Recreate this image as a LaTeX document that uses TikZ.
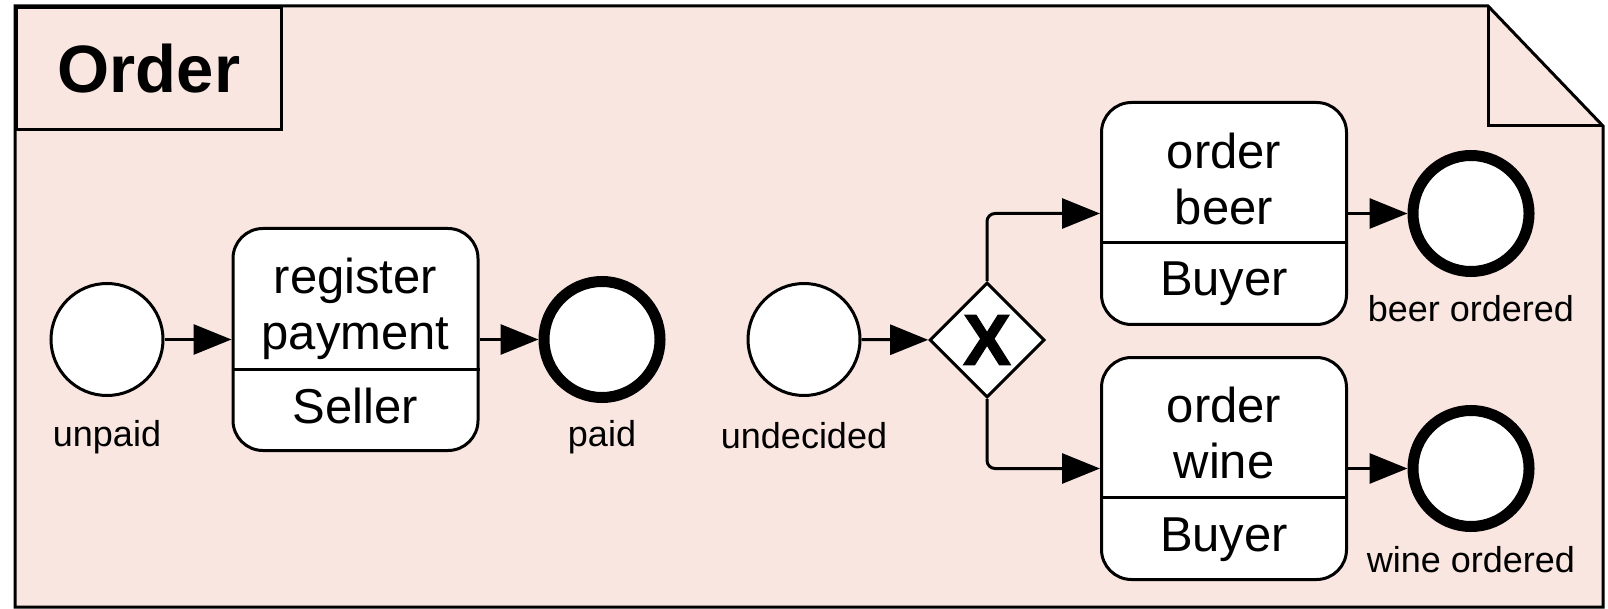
\documentclass[tikz,border=0pt]{standalone}
\usepackage{fontspec}
\setmainfont{Liberation Sans}
\newfontfamily\xorfont[FakeBold=1.6]{Liberation Sans Bold}
\usepackage{tikz}
\usetikzlibrary{positioning,arrows.meta,shapes.geometric}
\definecolor{orderbg}{RGB}{249,230,224}

\begin{document}
\begin{tikzpicture}[
    x=1pt,
    y=-1pt,
    >={Triangle[length=38pt,width=30pt]},
    line width=3pt,
    font=\fontsize{49}{56}\selectfont
]

\tikzstyle{event}=[
    circle,
    draw,
    fill=white,
    minimum size=112pt,
    inner sep=0pt
]
\tikzstyle{endevent}=[event, line width=11pt, minimum size=116pt]
\tikzstyle{task}=[
    draw,
    fill=white,
    rounded corners=30pt,
    minimum width=245pt,
    minimum height=222pt,
    inner sep=0pt
]
\tikzstyle{gateway}=[diamond, draw, fill=white, minimum size=115pt, inner sep=0pt]
\tikzstyle{caption}=[anchor=base, inner sep=0pt, font=\fontsize{36}{40}\selectfont]
\tikzstyle{flow}=[->]

\useasboundingbox (0,0) rectangle (1608,609);

\draw[fill=orderbg] (15,6) -- (1488,6) -- (1603,126) -- (1603,607) -- (15,607) -- cycle;
\draw (1488,6) -- (1488,126) -- (1603,126);
\node[draw, anchor=north west, minimum width=265pt, minimum height=122pt, inner sep=0pt,
      font=\bfseries\fontsize{67}{70}\selectfont] (title) at (15,6) {Order};


\node[event] (unpaid) at (107,339.5) {};
\node[caption] (unpaidlbl) at (107,446) {unpaid};

\node[task] (pay) at (355.5,339.5) {};
\draw (pay.west |- 0,369) -- (pay.east |- 0,369);
\node[align=center, inner sep=0pt] (payname) at (355.5,309) {register\\payment};
\node[anchor=base, inner sep=0pt] (payrole) at (355.5,423) {Seller};

\node[endevent] (paid) at (602,339.5) {};
\node[caption] (paidlbl) at (602,446) {paid};


\node[event] (undecided) at (804,339.5) {};
\node[caption] (undecidedlbl) at (804,448) {undecided};

\node[gateway, font=\xorfont\fontsize{72}{72}\selectfont] (xor) at (987,340) {X};

\node[task] (beer) at (1224,213.5) {};
\draw (beer.west |- 0,243) -- (beer.east |- 0,243);
\node[align=center, inner sep=0pt] (beername) at (1224,178.5) {order\\beer};
\node[anchor=base, inner sep=0pt] (beerrole) at (1224,296) {Buyer};

\node[task] (wine) at (1224,468.5) {};
\draw (wine.west |- 0,497) -- (wine.east |- 0,497);
\node[align=center, inner sep=0pt] (winename) at (1224,433) {order\\wine};
\node[anchor=base, inner sep=0pt] (winerole) at (1224,551) {Buyer};

\node[endevent] (beerend) at (1471,213.5) {};
\node[caption] (beerlbl) at (1471,322) {beer ordered};

\node[endevent] (wineend) at (1471,468.5) {};
\node[caption] (winelbl) at (1471,572) {wine ordered};


\draw[flow] (unpaid) -- (pay);
\draw[flow] (pay) -- (paid);
\draw[flow] (undecided) -- (xor);
\draw[flow, rounded corners=8pt] (xor.north) |- (beer);
\draw[flow, rounded corners=8pt] (xor.south) |- (wine);
\draw[flow] (beer) -- (beerend);
\draw[flow] (wine) -- (wineend);

\end{tikzpicture}
\end{document}
